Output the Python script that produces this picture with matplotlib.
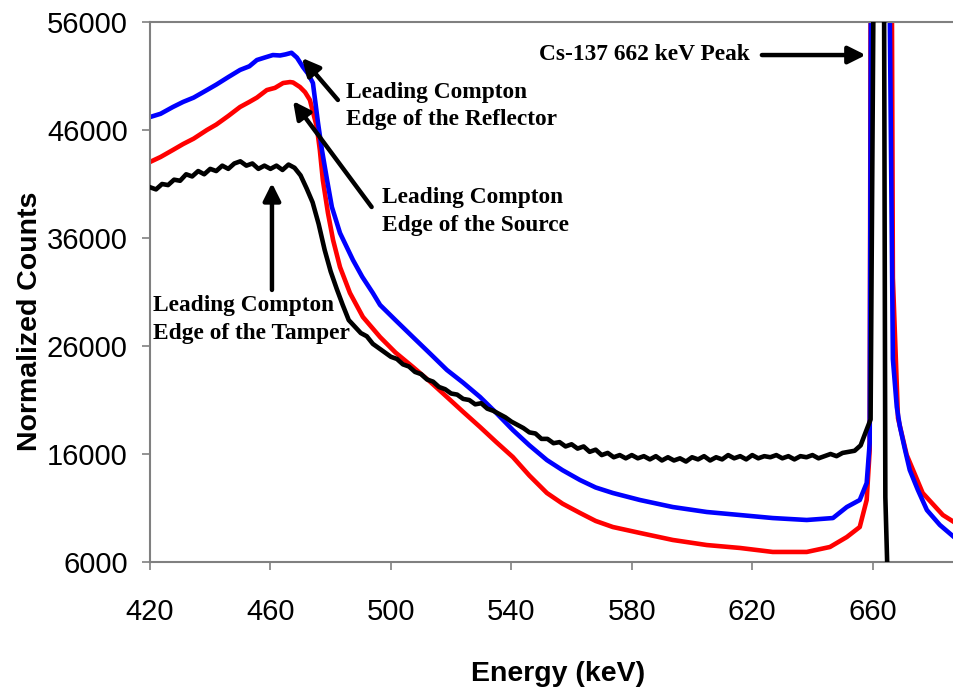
import matplotlib
matplotlib.use("Agg")
import matplotlib.pyplot as plt

# ---------------- data ----------------
blue_e = [420, 423.5, 427.6, 431.0, 434.5, 438.9, 442.0, 446.0, 449.9, 453.0, 455.5, 458.0,
          460.8, 463.2, 465.0, 467.0, 468.8, 470.8, 472.5, 474.1, 475.8, 477.1, 478.8, 480.4,
          483.1, 487.4, 490.5, 494.0, 496.4, 501.5, 507.3, 513.0, 518.6, 524.0, 529.6, 535.0,
          540.5, 546.0, 551.8, 557.0, 562.8, 568.0, 573.7, 582.7, 593.6, 604.9, 615.9, 626.8,
          638.1, 646.8, 651.4, 655.7, 658.0, 659.0, 659.4, 662.5, 665.7, 666.7, 668.0, 669.0,
          670.6, 672.3, 675.0, 678.0, 682.3, 687.0]
blue_c = [47200, 47500, 48130, 48600, 49000, 49700, 50200, 50900, 51560, 51900, 52480, 52700,
          52940, 52900, 53000, 53150, 52700, 51830, 51200, 50350, 46650, 44150, 41370, 38870,
          36460, 33960, 32400, 30910, 29800, 28400, 26830, 25300, 23780, 22600, 21280, 19800,
          18220, 16800, 15440, 14500, 13590, 12900, 12390, 11740, 11090, 10630, 10350, 10070,
          9890, 10070, 11090, 11740, 13310, 17020, 56000, 250000, 56000, 24800, 20350, 18590,
          16560, 14520, 12670, 10810, 9430, 8310]

red_e = [420, 423.5, 427.6, 431.0, 434.5, 438.9, 442.0, 446.0, 449.9, 453.0, 455.5, 458.8,
         461.5, 464.2, 466.5, 467.5, 469.8, 471.5, 473.1, 475.4, 476.4, 477.4, 479.1, 480.8,
         483.1, 486.4, 490.7, 496.4, 501.5, 507.3, 513.0, 518.6, 524.0, 529.6, 535.0, 540.5,
         546.0, 551.8, 557.0, 562.8, 568.0, 573.7, 582.7, 593.6, 604.9, 615.9, 626.8, 638.1,
         645.8, 651.4, 655.7, 658.0, 659.0, 659.3, 662.5, 666.4, 666.7, 668.4, 671.3, 676.6,
         683.3, 687.0]
red_c = [43040, 43500, 44150, 44700, 45200, 46000, 46500, 47300, 48130, 48600, 49000, 49700,
         49900, 50350, 50440, 50400, 49980, 49500, 48780, 46280, 44150, 41370, 38310, 35810,
         33310, 30910, 28690, 26830, 25400, 24060, 22700, 21280, 19900, 18500, 17100, 15720,
         14000, 12390, 11400, 10540, 9800, 9240, 8690, 8040, 7570, 7300, 6930, 6930,
         7390, 8310, 9240, 11740, 16370, 56000, 250000, 56000, 32300, 19330, 15910, 12390,
         10350, 9700]

black_e = [420, 422, 424, 426, 428, 430, 432, 434, 436, 438, 440, 442, 444, 446, 448, 450,
           452, 454, 456, 458, 460, 462, 464, 466, 468, 470, 472, 474, 476, 478, 480, 482,
           484, 486, 488, 490, 492, 494, 496, 498, 500, 502, 504, 506, 508, 510, 512, 514,
           516, 518, 520, 522, 524, 526, 528, 530, 532, 534, 536, 538, 540, 542, 544, 546,
           548, 550, 552, 554, 556, 558, 560, 562, 564, 566, 568, 570, 572, 574, 576, 578,
           580, 582, 584, 586, 588, 590, 592, 594, 596, 598, 600, 602, 604, 606, 608, 610,
           612, 614, 616, 618, 620, 622, 624, 626, 628, 630, 632, 634, 636, 638, 640, 642,
           644, 646, 648, 650, 652, 654, 656, 657.5, 659.3, 660.2, 662.0, 663.8, 664.2, 665.0]
black_c = [40700, 40500, 41000, 40900, 41400, 41300, 41900, 41700, 42200, 41900, 42400, 42200,
           42700, 42400, 42900, 43100, 42700, 42900, 42400, 42700, 42400, 42700, 42300, 42800,
           42500, 41800, 40600, 39300, 37300, 34900, 32900, 31300, 29800, 28400, 27800, 27200,
           26900, 26200, 25800, 25400, 25000, 24800, 24300, 24100, 23600, 23400, 22900, 22700,
           22200, 22000, 21600, 21500, 21100, 21000, 20600, 20700, 20200, 20000, 19700, 19400,
           19000, 18700, 18400, 18000, 17900, 17400, 17400, 17000, 17100, 16700, 16900, 16500,
           16700, 16200, 16400, 15900, 16100, 15700, 15900, 15600, 15900, 15600, 15800, 15500,
           15800, 15400, 15700, 15400, 15600, 15300, 15700, 15500, 15800, 15400, 15700, 15500,
           15900, 15600, 15800, 15500, 15900, 15600, 15800, 15700, 15900, 15600, 15800, 15500,
           15800, 15700, 15900, 15600, 15800, 16000, 15800, 16100, 16200, 16300, 16800, 17900,
           19200, 56000, 250000, 56000, 12000, 4000]

x_ticks = [420, 460, 500, 540, 580, 620, 660]
y_ticks = [6000, 16000, 26000, 36000, 46000, 56000]

# ---------------- figure ----------------
fig = plt.figure(figsize=(9.54, 6.92), dpi=100)
ax = fig.add_axes([150/954, 1 - 562/692, 1 - 150/954, (562 - 22)/692])

lw = 3.3
ax.plot(black_e, black_c, color="black", lw=lw, solid_joinstyle="round", zorder=3)
ax.plot(red_e, red_c, color="#ff0000", lw=lw, solid_joinstyle="round", zorder=2)
ax.plot(blue_e, blue_c, color="#0000ff", lw=lw, solid_joinstyle="round", zorder=2.5)

ax.set_xlim(420, 687)
ax.set_ylim(6000, 56000)
ax.set_xticks(x_ticks)
ax.set_yticks(y_ticks)

tick_font = dict(family=["Liberation Sans", "DejaVu Sans"], size=21)
ax.set_xticklabels([str(v) for v in x_ticks], **tick_font)
ax.set_yticklabels([str(v) for v in y_ticks], **tick_font)

for s in ["left", "bottom", "top"]:
    ax.spines[s].set_color("#808080")
    ax.spines[s].set_linewidth(1.5)
ax.spines["right"].set_visible(False)
ax.tick_params(direction="out", length=6, width=1.2, color="#808080")
ax.tick_params(axis="x", pad=20)
ax.tick_params(axis="y", pad=10)

lab_font = dict(family=["Liberation Sans", "DejaVu Sans"], size=20.5, weight="bold")
ax.set_xlabel("Energy (keV)", **lab_font)
ax.set_ylabel("Normalized Counts", **lab_font)
ax.xaxis.set_label_coords(0.508, -0.183)
ax.yaxis.set_label_coords(-0.133, 0.446)

ann_font = dict(family=["Liberation Serif", "DejaVu Serif"], size=16.8, weight="bold")
arrow = dict(arrowstyle="-|>", lw=3.2, color="black", mutation_scale=26, shrinkA=0, shrinkB=0)

ax.annotate("", xy=(657.7, 52940), xytext=(623.2, 52940), arrowprops=arrow)
ax.text(619.2, 53000, "Cs-137 662 keV Peak", ha="right", va="center", **ann_font)

ax.annotate("", xy=(470.5, 52670), xytext=(482.4, 48780), arrowprops=arrow)
ax.text(485.2, 48230, "Leading Compton\nEdge of the Reflector", ha="left", va="center",
        linespacing=1.42, **ann_font)

ax.annotate("", xy=(467.5, 48680), xytext=(493.6, 38870), arrowprops=arrow)
ax.text(496.9, 38470, "Leading Compton\nEdge of the Source", ha="left", va="center",
        linespacing=1.42, **ann_font)

ax.annotate("", xy=(460.5, 41090), xytext=(460.5, 31190), arrowprops=arrow)
ax.text(421.0, 28480, "Leading Compton\nEdge of the Tamper", ha="left", va="center",
        linespacing=1.42, **ann_font)

fig.savefig("out.png", dpi=100)
